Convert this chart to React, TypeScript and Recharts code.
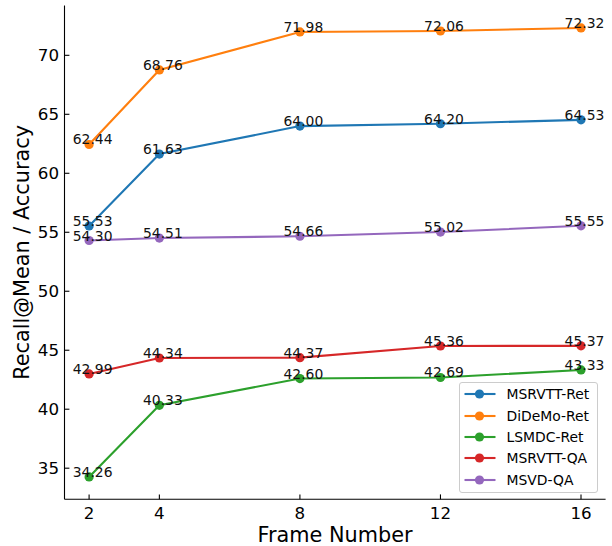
import React from 'react';
import { LineChart, Line, XAxis, YAxis, Legend, LabelList } from 'recharts';

const frames = [2, 4, 8, 12, 16];
const msrvttRet = [55.53, 61.63, 64.0, 64.2, 64.53];
const didemoRet = [62.44, 68.76, 71.98, 72.06, 72.32];
const lsmdcRet = [34.26, 40.33, 42.6, 42.69, 43.33];
const msrvttQA = [42.99, 44.34, 44.37, 45.36, 45.37];
const msvdQA = [54.3, 54.51, 54.66, 55.02, 55.55];
const xTicks = [2, 4, 8, 12, 16];
const yTicks = [35, 40, 45, 50, 55, 60, 65, 70];
const seriesNames = ['MSRVTT-Ret', 'DiDeMo-Ret', 'LSMDC-Ret', 'MSRVTT-QA', 'MSVD-QA'];
const seriesColors = ['#1f77b4', '#ff7f0e', '#2ca02c', '#d62728', '#9467bd'];
const seriesValues = [msrvttRet, didemoRet, lsmdcRet, msrvttQA, msvdQA];
const xLabel = 'Frame Number';
const yLabel = 'Recall@Mean / Accuracy';

const data = frames.map((f, i) => {
  const row: any = { frame: f };
  seriesNames.forEach((n, k) => {
    row[n] = seriesValues[k][i];
  });
  return row;
});

const W = 612;
const H = 546;
const PLOT_LEFT = 64.5;
const PLOT_RIGHT = 605.6;
const PLOT_TOP = 5.5;
const PLOT_BOTTOM = 499.3;
const FONT = "'DejaVu Sans', sans-serif";
const TICK_LEN = 4.9;
const DOT_R = 4.6;

const XTick = (props: any) => {
  const { x, payload } = props;
  return (
    <g>
      <line x1={x} x2={x} y1={PLOT_BOTTOM} y2={PLOT_BOTTOM - TICK_LEN} stroke="#000" strokeWidth={1.1} />
      <text x={x} y={PLOT_BOTTOM + 19.3} textAnchor="middle" fontSize={16.7} fontFamily={FONT} fill="#000">
        {payload.value}
      </text>
    </g>
  );
};

const YTick = (props: any) => {
  const { y, payload } = props;
  return (
    <g>
      <line x1={PLOT_LEFT} x2={PLOT_LEFT + TICK_LEN} y1={y} y2={y} stroke="#000" strokeWidth={1.1} />
      <text x={PLOT_LEFT - 5.5} y={y + 6.1} textAnchor="end" fontSize={16.7} fontFamily={FONT} fill="#000">
        {payload.value}
      </text>
    </g>
  );
};

const PointLabel = (props: any) => {
  const vb = props.viewBox || {};
  const x = vb.x ?? props.x;
  const y = vb.y ?? props.y;
  const v = Number(props.value);
  return (
    <text x={x + 3.5} y={y} textAnchor="middle" fontSize={13.9} fontFamily={FONT} fill="#111">
      {v.toFixed(2)}
    </text>
  );
};

const LEG_LEFT = 459.3;
const LEG_TOP = 381.7;
const LEG_W = 139;
const LEG_H = 111;

const LegendBox = () => (
  <div
    style={{
      position: 'relative',
      boxSizing: 'border-box',
      width: LEG_W,
      height: LEG_H,
      border: '1px solid #cccccc',
      borderRadius: 3,
      background: 'rgba(255,255,255,0.8)',
      fontFamily: FONT,
    }}
  >
    {seriesNames.map((n, i) => {
      const cy = 11.6 + i * 21.35;
      return (
        <div key={n} style={{ position: 'absolute', left: 0, top: cy - 10, height: 20, width: LEG_W }}>
          <svg width={32} height={20} style={{ position: 'absolute', left: 4.2, top: 0 }}>
            <line x1={0.5} x2={31.5} y1={10} y2={10} stroke={seriesColors[i]} strokeWidth={2.1} />
            <circle cx={15.5} cy={10} r={DOT_R} fill={seriesColors[i]} />
          </svg>
          <span
            style={{
              position: 'absolute',
              left: 46.2,
              top: 0,
              height: 20,
              lineHeight: '20px',
              fontSize: 13.9,
              color: '#000',
              whiteSpace: 'nowrap',
            }}
          >
            {n}
          </span>
        </div>
      );
    })}
  </div>
);

export default function App() {
  return (
    <div style={{ position: 'absolute', left: 0, top: 0, width: W, height: H, background: '#fff' }}>
      <LineChart
        width={W}
        height={H}
        data={data}
        margin={{ top: PLOT_TOP, right: W - PLOT_RIGHT, left: 0, bottom: 0 }}
      >
        <XAxis
          dataKey="frame"
          type="number"
          domain={[1.3, 16.7]}
          allowDataOverflow
          ticks={xTicks}
          interval={0}
          height={H - PLOT_BOTTOM}
          tickLine={false}
          axisLine={{ stroke: '#000', strokeWidth: 1.1 }}
          tick={<XTick />}
          label={{
            content: () => (
              <text
                x={(PLOT_LEFT + PLOT_RIGHT) / 2}
                y={542.4}
                textAnchor="middle"
                fontSize={20.8}
                fontFamily={FONT}
                fill="#000"
              >
                {xLabel}
              </text>
            ),
          }}
        />
        <YAxis
          type="number"
          domain={[32.363, 74.223]}
          allowDataOverflow
          ticks={yTicks}
          interval={0}
          width={PLOT_LEFT}
          tickLine={false}
          axisLine={{ stroke: '#000', strokeWidth: 1.1 }}
          tick={<YTick />}
          label={{
            content: () => (
              <text
                transform={`translate(28.5, ${(PLOT_TOP + PLOT_BOTTOM) / 2}) rotate(-90)`}
                textAnchor="middle"
                fontSize={20.8}
                fontFamily={FONT}
                fill="#000"
              >
                {yLabel}
              </text>
            ),
          }}
        />
        {seriesNames.map((n, i) => (
          <Line
            key={n}
            type="linear"
            dataKey={n}
            name={n}
            stroke={seriesColors[i]}
            strokeWidth={2.1}
            dot={{ r: DOT_R, fill: seriesColors[i], stroke: seriesColors[i], strokeWidth: 0 }}
            activeDot={false}
            isAnimationActive={false}
          >
            <LabelList dataKey={n} content={<PointLabel />} />
          </Line>
        ))}
        <Legend
          layout="vertical"
          align="center"
          verticalAlign="middle"
          content={() => <LegendBox />}
          wrapperStyle={{ position: 'absolute', left: LEG_LEFT, top: LEG_TOP, width: LEG_W, height: LEG_H, margin: 0 }}
        />
      </LineChart>
    </div>
  );
}
